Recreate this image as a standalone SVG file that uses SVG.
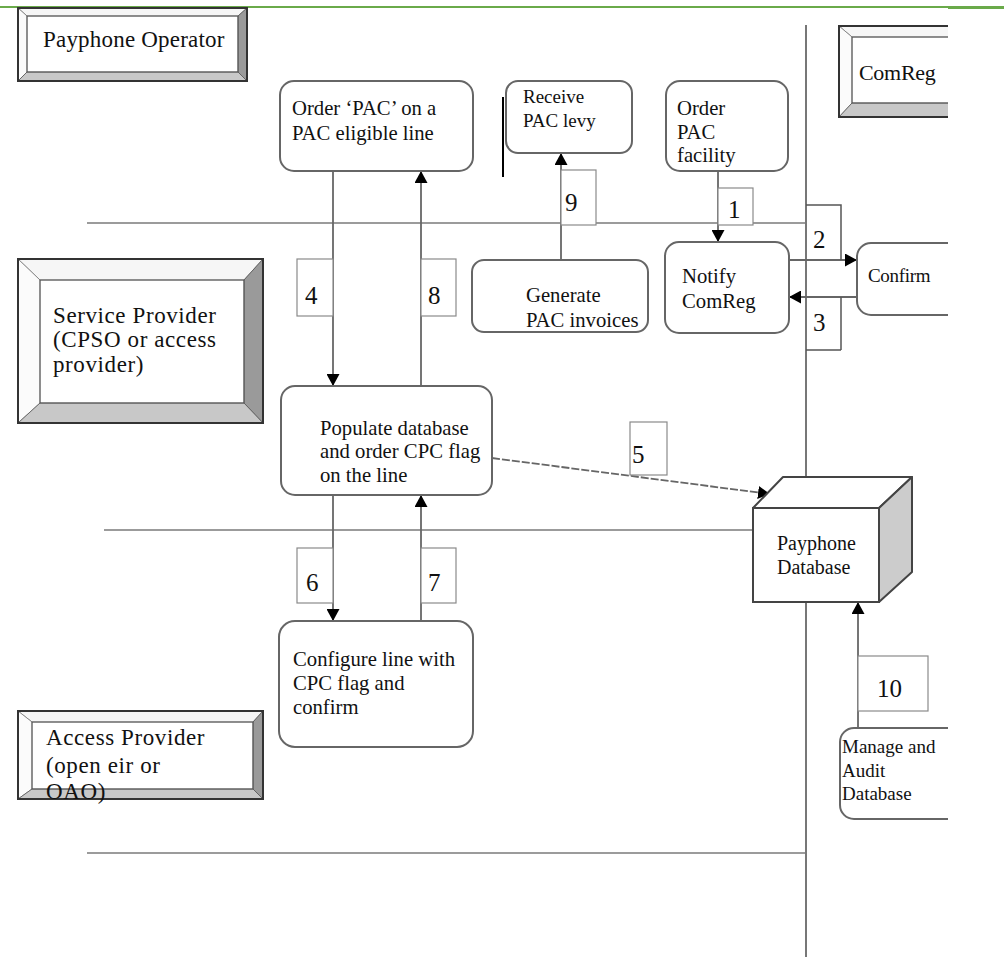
<svg xmlns="http://www.w3.org/2000/svg" width="1004" height="957" viewBox="0 0 1004 957">
<style>
  text { font-family: "Liberation Serif", "Times New Roman", serif; fill: #111; }
  .lane { font-size: 23px; letter-spacing: 0.6px; }
  .node { font-size: 20.7px; }
  .num { font-size: 25px; }
  .box { fill: #fff; stroke: #666; stroke-width: 2; }
  .lbl { fill: #fff; stroke: #8a8a8a; stroke-width: 1.2; }
  .conn { fill: none; stroke: #666; stroke-width: 1.8; }
  .sep { fill: none; stroke: #7a7a7a; stroke-width: 1.5; }
  .bev-o { fill: none; stroke: #333; stroke-width: 2; }
  .bev-i { fill: none; stroke: #555; stroke-width: 1; }
  .bt { fill: #f6f6f6; stroke: #777; stroke-width: 0.8; }
  .bl { fill: #fbfbfb; stroke: #777; stroke-width: 0.8; }
  .br { fill: #9a9a9a; stroke: #555; stroke-width: 0.8; }
  .bb { fill: #c8c8c8; stroke: #555; stroke-width: 0.8; }
</style>
<defs>
  <marker id="ah" markerUnits="userSpaceOnUse" markerWidth="13" markerHeight="13" refX="12" refY="6.5" orient="auto">
    <path d="M0,0 L12,6.5 L0,13 Z" fill="#000"/>
  </marker>
  <clipPath id="page"><rect x="0" y="0" width="948" height="957"/></clipPath>
</defs>
<rect x="0" y="0" width="1004" height="957" fill="#fff"/>
<!-- top green rule -->
<line x1="0" y1="7" x2="948" y2="7" stroke="#6aaa4a" stroke-width="1.8"/>
<line x1="948" y1="7.5" x2="1004" y2="7.5" stroke="#6aaa4a" stroke-width="3"/>

<!-- swimlane separators -->
<g id="lanes">
  <line class="sep" x1="87" y1="223" x2="806" y2="223"/>
  <line class="sep" x1="104" y1="530" x2="753" y2="530"/>
  <line class="sep" x1="87" y1="853" x2="806" y2="853"/>
  <line x1="806" y1="25" x2="806" y2="957" stroke="#777" stroke-width="2"/>
  <line x1="503" y1="97" x2="503" y2="177" stroke="#000" stroke-width="2"/>
</g>

<!-- lane headers -->
<g id="lane-payphone-operator">
  <polygon class="bt" points="18,8 247,8 238,16 27,16"/>
  <polygon class="bl" points="18,8 27,16 27,72 18,81"/>
  <polygon class="br" points="247,8 247,81 238,72 238,16"/>
  <polygon class="bb" points="18,81 247,81 238,72 27,72"/>
  <rect class="bev-i" x="27" y="16" width="211" height="56"/>
  <rect class="bev-o" x="18" y="8" width="229" height="73"/>
  <text class="lane" x="43" y="47" style="letter-spacing:0.2px">Payphone Operator</text>
</g>
<g id="lane-comreg" clip-path="url(#page)">
  <polygon class="bt" points="839,26 1000,26 990,37 852,37"/>
  <polygon class="bl" points="839,26 852,37 852,103 839,117"/>
  <polygon class="bb" points="839,117 1000,117 990,103 852,103"/>
  <rect class="bev-i" x="852" y="37" width="138" height="66"/>
  <rect class="bev-o" x="839" y="26" width="161" height="91"/>
  <text class="lane" x="859" y="80" style="font-size:22px;letter-spacing:-0.3px">ComReg</text>
</g>
<g id="lane-service-provider">
  <polygon class="bt" points="18,259 263,259 244,280 40,280"/>
  <polygon class="bl" points="18,259 40,280 40,403 18,423"/>
  <polygon class="br" points="263,259 263,423 244,403 244,280"/>
  <polygon class="bb" points="18,423 263,423 244,403 40,403"/>
  <rect class="bev-i" x="40" y="280" width="204" height="123"/>
  <rect class="bev-o" x="18" y="259" width="245" height="164"/>
  <text class="lane" x="53" y="323">Service Provider</text>
  <text class="lane" x="53" y="347">(CPSO or access</text>
  <text class="lane" x="53" y="372">provider)</text>
</g>
<g id="lane-access-provider">
  <polygon class="bt" points="18,711 263,711 253,722 32,722"/>
  <polygon class="bl" points="18,711 32,722 32,789 18,799"/>
  <polygon class="br" points="263,711 263,799 253,789 253,722"/>
  <polygon class="bb" points="18,799 263,799 253,789 32,789"/>
  <rect class="bev-i" x="32" y="722" width="221" height="67"/>
  <rect class="bev-o" x="18" y="711" width="245" height="88"/>
  <text class="lane" x="46" y="745">Access Provider</text>
  <text class="lane" x="46" y="773">(open eir or</text>
  <text class="lane" x="46" y="799">OAO)</text>
</g>

<!-- connectors -->
<g id="connectors">
  <line class="conn" x1="718" y1="171" x2="718" y2="242" marker-end="url(#ah)"/>
  <line class="conn" x1="789" y1="260" x2="857" y2="260" marker-end="url(#ah)"/>
  <line class="conn" x1="857" y1="297" x2="789" y2="297" marker-end="url(#ah)"/>
  <line class="conn" x1="333" y1="171" x2="333" y2="386" marker-end="url(#ah)"/>
  <line class="conn" x1="421" y1="386" x2="421" y2="171" marker-end="url(#ah)"/>
  <line class="conn" x1="561" y1="260" x2="561" y2="153" marker-end="url(#ah)"/>
  <line class="conn" x1="492" y1="458" x2="770" y2="494" stroke-dasharray="8,2" marker-end="url(#ah)"/>
  <line class="conn" x1="333" y1="495" x2="333" y2="621" marker-end="url(#ah)"/>
  <line class="conn" x1="421" y1="621" x2="421" y2="495" marker-end="url(#ah)"/>
  <line class="conn" x1="858" y1="728" x2="858" y2="602" marker-end="url(#ah)"/>
  <!-- step labels -->
  <rect class="lbl" x="718" y="188" width="35" height="37"/><text class="num" x="728" y="218">1</text>
  <path d="M806,205 H841 V260" fill="none" stroke="#555" stroke-width="1.5"/><text class="num" x="813" y="248">2</text>
  <path d="M841,297 V350 M806,350 H841" fill="none" stroke="#555" stroke-width="1.5"/><text class="num" x="813" y="331">3</text>
  <rect class="lbl" x="297" y="259" width="36" height="57"/><text class="num" x="305" y="304">4</text>
  <rect class="lbl" x="421" y="259" width="35" height="57"/><text class="num" x="428" y="304">8</text>
  <rect class="lbl" x="561" y="170" width="35" height="55"/><text class="num" x="565" y="211">9</text>
  <rect class="lbl" x="630" y="422" width="37" height="53"/><text class="num" x="632" y="463">5</text>
  <rect class="lbl" x="297" y="548" width="36" height="55"/><text class="num" x="306" y="591">6</text>
  <rect class="lbl" x="421" y="548" width="35" height="55"/><text class="num" x="428" y="591">7</text>
  <rect class="lbl" x="858" y="656" width="70" height="55"/><text class="num" x="877" y="697">10</text>
</g>

<!-- process nodes -->
<g id="order-pac-line">
  <rect class="box" x="280" y="81" width="193" height="90" rx="14"/>
  <text class="node" x="292" y="115">Order ‘PAC’ on a</text>
  <text class="node" x="292" y="140">PAC eligible line</text>
</g>
<g id="receive-levy">
  <rect class="box" x="506" y="81" width="126" height="72" rx="12"/>
  <text class="node" x="523" y="103" style="font-size:19px">Receive</text>
  <text class="node" x="523" y="127" style="font-size:19px">PAC levy</text>
</g>
<g id="order-pac-facility">
  <rect class="box" x="666" y="81" width="122" height="90" rx="14"/>
  <text class="node" x="677" y="115">Order</text>
  <text class="node" x="677" y="139">PAC</text>
  <text class="node" x="677" y="162">facility</text>
</g>
<g id="generate-invoices">
  <rect class="box" x="472" y="260" width="176" height="72" rx="12"/>
  <text class="node" x="526" y="302">Generate</text>
  <text class="node" x="526" y="327">PAC invoices</text>
</g>
<g id="notify-comreg">
  <rect class="box" x="665" y="242" width="124" height="91" rx="14"/>
  <text class="node" x="682" y="283">Notify</text>
  <text class="node" x="682" y="308">ComReg</text>
</g>
<g id="confirm" clip-path="url(#page)">
  <rect class="box" x="857" y="243" width="150" height="72" rx="14"/>
  <text class="node" x="868" y="282" style="font-size:19px;letter-spacing:-0.3px">Confirm</text>
</g>
<g id="populate-database">
  <rect class="box" x="281" y="386" width="211" height="109" rx="14"/>
  <text class="node" x="320" y="435">Populate database</text>
  <text class="node" x="320" y="458">and order CPC flag</text>
  <text class="node" x="320" y="482">on the line</text>
</g>
<g id="configure-line">
  <rect class="box" x="279" y="621" width="194" height="126" rx="16"/>
  <text class="node" x="293" y="666">Configure line with</text>
  <text class="node" x="293" y="690">CPC flag and</text>
  <text class="node" x="293" y="714">confirm</text>
</g>
<g id="manage-audit" clip-path="url(#page)">
  <rect class="box" x="840" y="728" width="150" height="91" rx="14"/>
  <text class="node" x="842" y="753" style="font-size:19px">Manage and</text>
  <text class="node" x="842" y="777" style="font-size:19px">Audit</text>
  <text class="node" x="842" y="800" style="font-size:19px">Database</text>
</g>
<g id="payphone-database">
  <polygon points="753,508 783,477 912,477 879,508" fill="#fff" stroke="#444" stroke-width="2" stroke-linejoin="round"/>
  <polygon points="879,508 912,477 912,572 879,602" fill="#cccccc" stroke="#444" stroke-width="2" stroke-linejoin="round"/>
  <rect x="753" y="508" width="126" height="94" fill="#fff" stroke="#444" stroke-width="2"/>
  <text class="node" x="777" y="550" style="font-size:20px">Payphone</text>
  <text class="node" x="777" y="574" style="font-size:20px">Database</text>
</g>
</svg>
